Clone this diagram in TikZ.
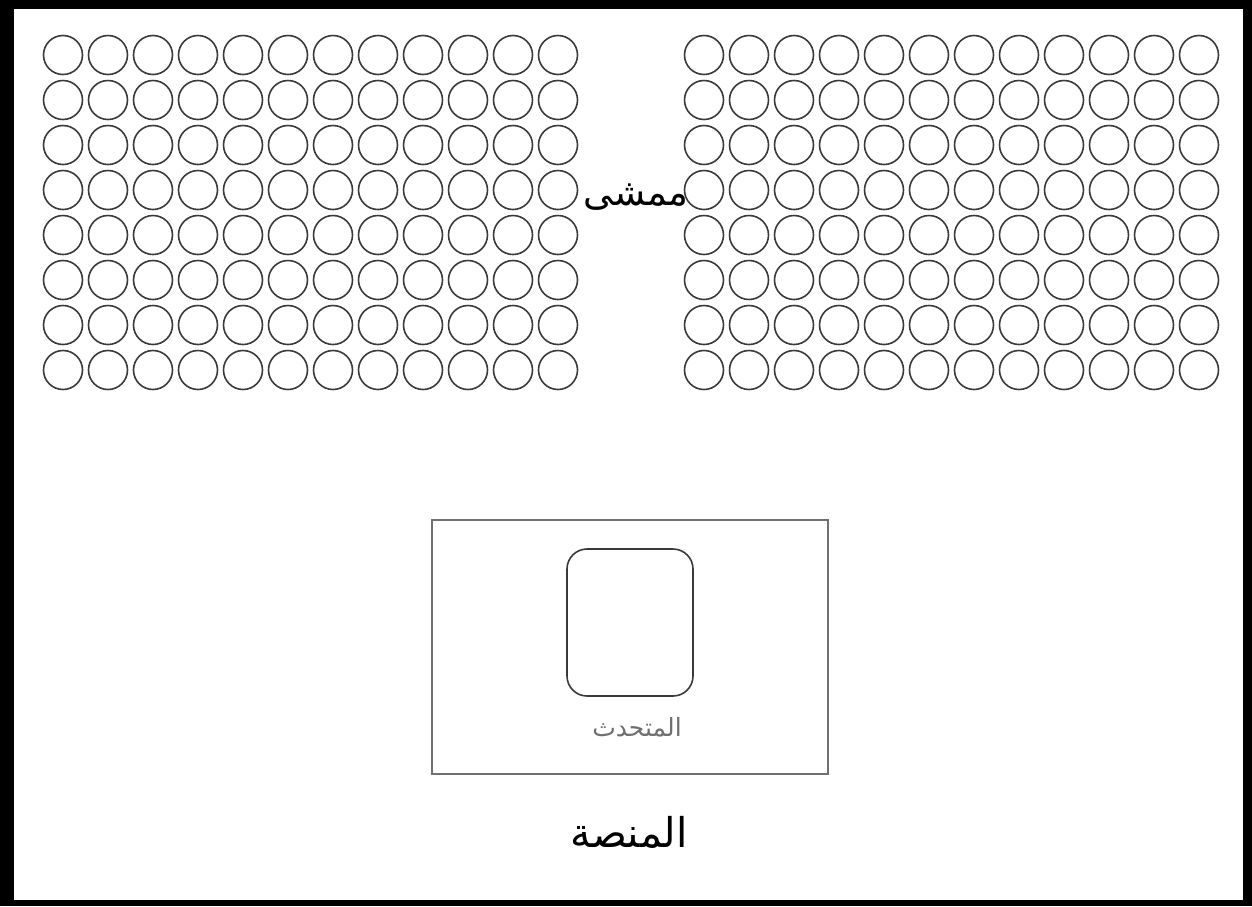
\documentclass[tikz,border=0pt]{standalone}
\usepackage{fontspec}
\newfontfamily\arabicfont[Script=Arabic]{DejaVu Sans}
\TeXXeTstate=1
\definecolor{seatgray}{HTML}{3A3A3A}
\definecolor{linegray}{HTML}{707070}
\tikzset{
  seat/.style={draw=seatgray, line width=1.6pt},
  boxline/.style={draw=linegray, line width=1.6pt},
  lbl/.style={inner sep=0pt}
}
\begin{document}
\begin{tikzpicture}[x=1pt,y=-1pt]
\useasboundingbox (0,0) rectangle (1252,906);
\fill[black] (0,0) rectangle (1252,906);
\fill[white] (14,9) rectangle (1243,900);
% seats
\foreach \r in {0,...,7}{
  \foreach \c in {0,...,11}{
    \draw[seat] (63+45*\c, 55+45*\r) circle (19.5);
    \draw[seat] (704+45*\c, 55+45*\r) circle (19.5);
  }
}
\node[lbl, font=\arabicfont\fontsize{37}{40}\selectfont] (aisle) at (636,197) {\beginR ممشى\endR};
% stage
\draw[boxline] (432,520) rectangle (828,774);
\draw[boxline, draw=seatgray, rounded corners=20pt] (567,549) rectangle (693,696);
\node[lbl, text=linegray, font=\arabicfont\fontsize{25}{28}\selectfont] (speaker) at (637,727) {\beginR المتحدث\endR};
\node[lbl, font=\arabicfont\fontsize{41}{44}\selectfont] (stage) at (629,832) {\beginR المنصة\endR};
\end{tikzpicture}
\end{document}
